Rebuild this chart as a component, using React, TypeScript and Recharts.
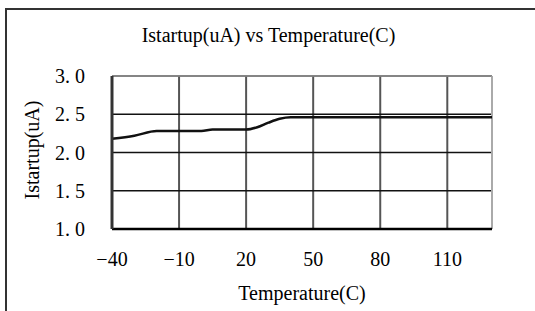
import { LineChart, Line, XAxis, YAxis, CartesianGrid, ReferenceLine } from 'recharts';

// temperature (C) and startup current (uA)
const temps = [-40, -30, -20, -10, 0, 5, 10, 20, 25, 30, 35, 40, 50, 60, 70, 80, 90, 100, 110, 120, 130];
const istartup = [2.18, 2.22, 2.28, 2.28, 2.28, 2.3, 2.3, 2.3, 2.33, 2.39, 2.44, 2.46, 2.46, 2.46, 2.46, 2.46, 2.46, 2.46, 2.46, 2.46, 2.46];

const xTicks = [-40, -10, 20, 50, 80, 110];
const yTicks = [1.0, 1.5, 2.0, 2.5, 3.0];

const data = temps.map((t, i) => ({ t, i: istartup[i] }));

const serif = '"Liberation Serif", "DejaVu Serif", serif';
const tickStyle = { fontFamily: serif, fontSize: 20, fill: '#000' };

export default function App() {
  return (
    <div style={{ position: 'fixed', left: 0, top: 0, width: 535, height: 311, overflow: 'hidden', background: '#fff' }}>
      <div
        style={{
          position: 'absolute', left: 5, top: 8, width: 600, height: 400,
          border: '2px solid #333', boxSizing: 'border-box',
        }}
      />
      <LineChart
        width={535}
        height={311}
        data={data}
        margin={{ top: 76, right: 43, bottom: 52, left: 52 }}
        style={{ position: 'absolute', left: 0, top: 0 }}
      >
        <CartesianGrid stroke="#555" strokeWidth={2} horizontal={false} />
        <CartesianGrid stroke="#111" strokeWidth={1.3} vertical={false} />
        <ReferenceLine x={130} stroke="#aaa" strokeWidth={2} />
        <ReferenceLine y={3} stroke="#999" strokeWidth={1.5} />
        <XAxis
          dataKey="t"
          type="number"
          domain={[-40, 130]}
          ticks={xTicks}
          tickFormatter={(v: number) => (v < 0 ? '\u2212' + Math.abs(v) : String(v))}
          tick={tickStyle}
          tickLine={false}
          tickSize={0}
          tickMargin={23}
          axisLine={{ stroke: '#000', strokeWidth: 2.5 }}
          interval={0}
        />
        <YAxis
          type="number"
          domain={[1, 3]}
          ticks={yTicks}
          tickFormatter={(v: number) => v.toFixed(1).replace('.', '. ')}
          tick={tickStyle}
          tickLine={false}
          tickSize={0}
          tickMargin={27}
          axisLine={{ stroke: '#333', strokeWidth: 3 }}
          width={60}
          interval={0}
        />
        <Line
          type="monotone"
          dataKey="i"
          stroke="#111"
          strokeWidth={2.5}
          dot={false}
          isAnimationActive={false}
        />
      </LineChart>
      <div
        style={{
          position: 'absolute', left: 0, width: 537, top: 22, textAlign: 'center',
          fontFamily: serif, fontSize: 20, color: '#000', lineHeight: '26px',
        }}
      >
        Istartup(uA) vs Temperature(C)
      </div>
      <div
        style={{
          position: 'absolute', left: 112, width: 380, top: 280, textAlign: 'center',
          fontFamily: serif, fontSize: 20, color: '#000', lineHeight: '26px',
        }}
      >
        Temperature(C)
      </div>
      <div
        style={{
          position: 'absolute', left: 32, top: 150, width: 0, height: 0,
        }}
      >
        <div
          style={{
            position: 'absolute', left: 0, top: 0, transform: 'translate(-50%, -50%) rotate(-90deg)',
            whiteSpace: 'nowrap', fontFamily: serif, fontSize: 20, color: '#000', lineHeight: '26px',
          }}
        >
          Istartup(uA)
        </div>
      </div>
    </div>
  );
}
